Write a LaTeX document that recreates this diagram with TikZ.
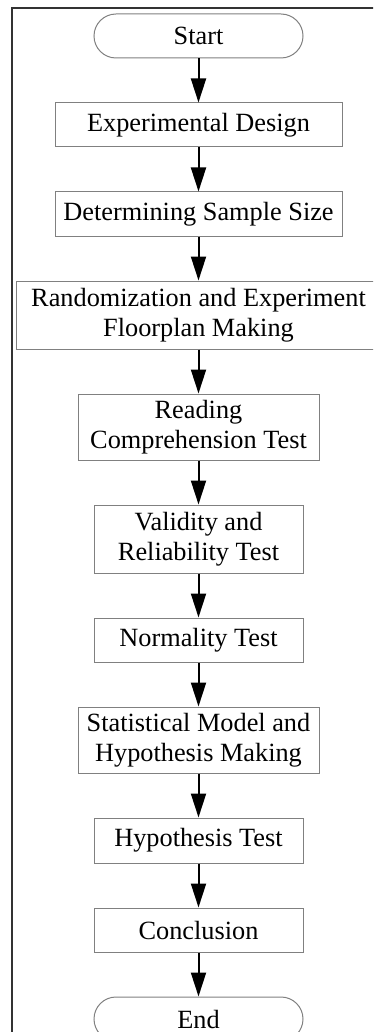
\documentclass[tikz,border=0pt]{standalone}
\usepackage{fontspec}
\setmainfont{Liberation Serif}
\usetikzlibrary{positioning,arrows.meta}

\begin{document}
\begin{tikzpicture}[
    x=1pt, y=1pt,
    node distance=44pt,
    every node/.style={font=\fontsize{26.3}{30}\selectfont},
    stepbox/.style={draw=gray, line width=1pt, minimum height=44pt, inner sep=0pt, align=center},
    term/.style={stepbox, rounded corners=22pt, minimum width=209pt},
    flow/.style={-{Triangle[length=24pt,width=15pt]}, line width=2pt}
]
        % Page area and outer frame
        \useasboundingbox (0,0) rectangle (373,-1032);
        \clip (0,0) rectangle (373,-1032);
        \draw[line width=2pt, black!80] (12,-1040) |- (390,-8);

        % Steps of the study
        \node[term] (start) at (198.5,-36) {Start};
        \node[stepbox, minimum width=287pt, below=of start] (design) {Experimental Design};
        \node[stepbox, minimum width=287pt, below=of design] (sample) {Determining Sample Size};
        \node[stepbox, minimum width=365pt, minimum height=68pt, below=of sample] (random) {Randomization and Experiment\\Floorplan Making};
        \node[stepbox, minimum width=241pt, minimum height=66pt, below=of random] (reading) {Reading\\Comprehension Test};
        \node[stepbox, minimum width=209pt, minimum height=68pt, below=of reading] (valid) {Validity and\\Reliability Test};
        \node[stepbox, minimum width=209pt, below=of valid] (normal) {Normality Test};
        \node[stepbox, minimum width=241pt, minimum height=66pt, below=of normal] (model) {Statistical Model and\\Hypothesis Making};
        \node[stepbox, minimum width=209pt, minimum height=45pt, below=of model] (hyptest) {Hypothesis Test};
        \node[stepbox, minimum width=209pt, below=of hyptest] (concl) {Conclusion};
        \node[term, below=of concl] (finish) {End};

        % Arrows between the steps
        \draw[flow] (start) -- (design);
        \draw[flow] (design) -- (sample);
        \draw[flow] (sample) -- (random);
        \draw[flow] (random) -- (reading);
        \draw[flow] (reading) -- (valid);
        \draw[flow] (valid) -- (normal);
        \draw[flow] (normal) -- (model);
        \draw[flow] (model) -- (hyptest);
        \draw[flow] (hyptest) -- (concl);
        \draw[flow] (concl) -- (finish);
\end{tikzpicture}
\end{document}
